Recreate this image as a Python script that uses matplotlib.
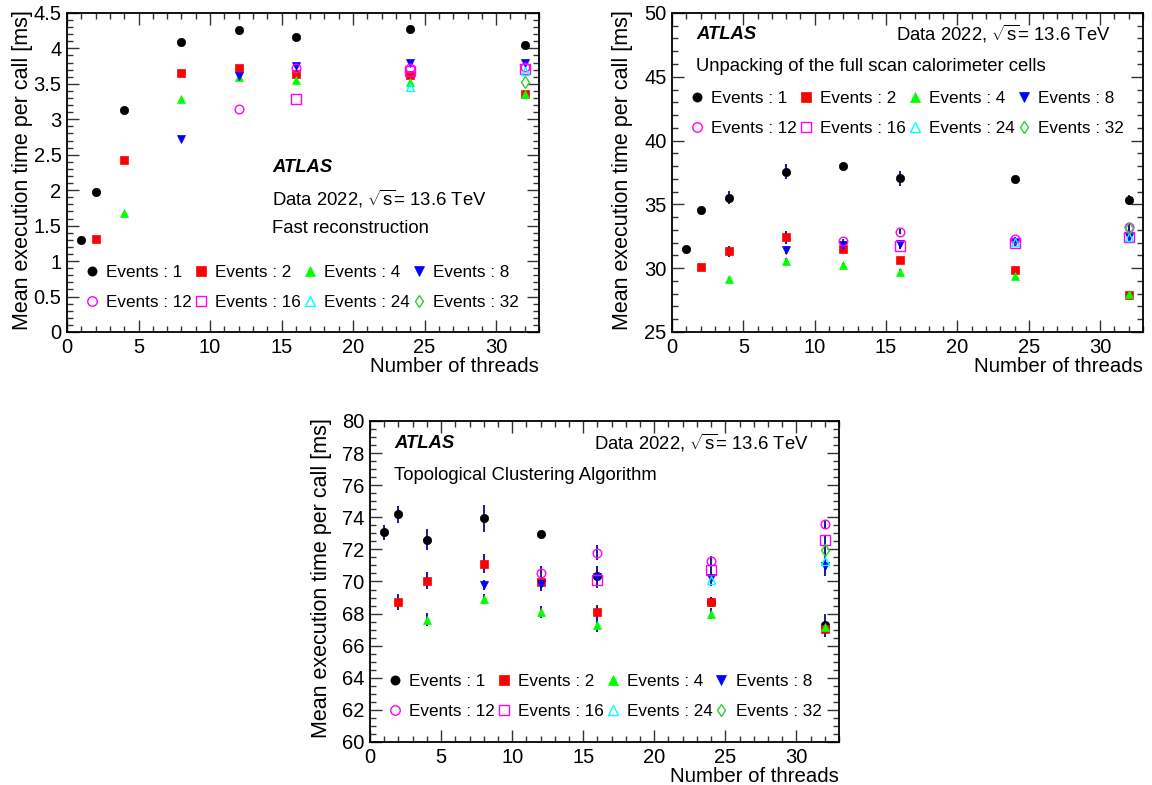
from __future__ import annotations

import matplotlib

matplotlib.use("Agg")

import matplotlib.pyplot as plt
from matplotlib.ticker import FuncFormatter, MultipleLocator

# --- data --------------------------------------------------------------
threads = [1, 2, 4, 8, 12, 16, 24, 32]
n_events = [1, 2, 4, 8, 12, 16, 24, 32]

# one list per "Events : N" series, values at threads >= N
fast_mean = [
    [1.30, 1.98, 3.13, 4.09, 4.26, 4.16, 4.28, 4.05],
    [1.31, 2.42, 3.66, 3.72, 3.64, 3.62, 3.36],
    [1.68, 3.28, 3.59, 3.55, 3.53, 3.35],
    [2.72, 3.61, 3.75, 3.80, 3.80],
    [3.14, 3.72, 3.72, 3.74],
    [3.28, 3.68, 3.71],
    [3.45, 3.68],
    [3.52],
]

unpack_mean = [
    [31.49, 34.59, 35.53, 37.57, 38.03, 37.04, 36.99, 35.35],
    [30.08, 31.31, 32.43, 31.54, 30.63, 29.82, 27.89],
    [29.14, 30.53, 30.24, 29.67, 29.41, 28.00],
    [31.44, 31.83, 31.88, 32.04, 32.48],
    [32.12, 32.87, 32.27, 33.19],
    [31.70, 32.01, 32.48],
    [32.09, 32.43],
    [33.11],
]
unpack_err = [
    [0.10, 0.20, 0.48, 0.57, 0.20, 0.60, 0.20, 0.40],
    [0.15, 0.45, 0.50, 0.30, 0.20, 0.20, 0.20],
    [0.20, 0.30, 0.20, 0.30, 0.20, 0.20],
    [0.30, 0.30, 0.30, 0.30, 0.40],
    [0.20, 0.20, 0.20, 0.30],
    [0.20, 0.20, 0.30],
    [0.20, 0.30],
    [0.30],
]

topo_mean = [
    [73.06, 74.18, 72.60, 73.93, 72.97, 70.37, 68.75, 67.32],
    [68.75, 70.06, 71.12, 69.94, 68.07, 68.75, 67.07],
    [67.63, 68.90, 68.09, 67.26, 68.00, 67.17],
    [69.77, 69.85, 70.29, 70.23, 70.96],
    [70.54, 71.79, 71.29, 73.56],
    [70.08, 70.69, 72.56],
    [70.12, 71.29],
    [71.95],
]
topo_err = [
    [0.45, 0.51, 0.65, 0.83, 0.15, 0.57, 0.30, 0.64],
    [0.50, 0.53, 0.60, 0.30, 0.45, 0.30, 0.50],
    [0.38, 0.30, 0.36, 0.40, 0.35, 0.40],
    [0.30, 0.45, 0.68, 0.50, 0.60],
    [0.40, 0.47, 0.30, 0.30],
    [0.30, 0.30, 0.30],
    [0.30, 0.50],
    [0.40],
]

# marker, colour, filled
styles = [
    ("o", "#000000", True),
    ("s", "#ff0000", True),
    ("^", "#00ff00", True),
    ("v", "#0000ff", True),
    ("o", "#ff00ff", False),
    ("s", "#ff00ff", False),
    ("^", "#00ffff", False),
    ("d", "#33cc33", False),
]
sizes = [6.0, 6.3, 6.3, 6.3, 6.2, 6.5, 6.3, 6.0]

FS = 13.3
LEG_FS = 12.3
ERR_COLOR = "#1a1a9a"

plt.rcParams["font.family"] = ["Liberation Sans", "DejaVu Sans"]
plt.rcParams["mathtext.fontset"] = "custom"
plt.rcParams["mathtext.rm"] = "Liberation Sans"
plt.rcParams["mathtext.it"] = "Liberation Sans:italic"
plt.rcParams["mathtext.bf"] = "Liberation Sans:bold"

DATA_LABEL = r"Data 2022, $\sqrt{\mathrm{s}}$= 13.6 TeV"


def _panel(ax, means, errs, *, ymin, ymax, ymajor, yminor, ylab_x):
    handles = []
    for k, (nev, vals) in enumerate(zip(n_events, means)):
        xs = threads[len(threads) - len(vals):]
        marker, color, filled = styles[k]
        if errs is not None:
            ax.errorbar(xs, vals, yerr=errs[k], fmt="none", ecolor=ERR_COLOR,
                        elinewidth=1.4, capsize=0, zorder=2)
        (h,) = ax.plot(
            xs, vals, linestyle="none", marker=marker, markersize=sizes[k],
            markerfacecolor=color if filled else "none",
            markeredgecolor=color, markeredgewidth=1.0 if not filled else 0.5,
            label=f"Events : {nev}", zorder=3,
        )
        handles.append(h)

    ax.set_xlim(0, 33)
    ax.set_ylim(ymin, ymax)
    ax.xaxis.set_major_locator(MultipleLocator(5))
    ax.xaxis.set_minor_locator(MultipleLocator(1))
    ax.yaxis.set_major_locator(MultipleLocator(ymajor))
    ax.yaxis.set_minor_locator(MultipleLocator(yminor))
    fmt = FuncFormatter(lambda v, _: f"{v:g}")
    ax.xaxis.set_major_formatter(fmt)
    ax.yaxis.set_major_formatter(fmt)
    ax.tick_params(which="both", direction="in", top=True, right=True,
                   labelsize=14.5, width=1.0, color="#333333")
    ax.tick_params(which="major", length=8.5, pad=4)
    ax.tick_params(which="minor", length=4.5)
    for s in ax.spines.values():
        s.set_linewidth(1.3)

    ax.set_xlabel("Number of threads", fontsize=14.7, loc="right", labelpad=0)
    ax.set_ylabel("Mean execution time per call [ms]", fontsize=15.5, loc="top")
    ax.yaxis.set_label_coords(ylab_x, 1.01)
    return handles


def _legend(ax, handles, y):
    order = [0, 4, 1, 5, 2, 6, 3, 7]
    ax.legend(
        [handles[i] for i in order],
        [handles[i].get_label() for i in order],
        ncol=4, loc="upper left", bbox_to_anchor=(0.034, y),
        frameon=False, fontsize=LEG_FS, handlelength=1.05, handletextpad=0.3,
        columnspacing=0.0, labelspacing=0.9, borderpad=0, borderaxespad=0,
        numpoints=1, markerscale=1.1,
    )


def main() -> None:
    fig = plt.figure(figsize=(11.52, 7.85), dpi=100)

    ax1 = fig.add_axes([0.0582, 0.5771, 0.4097, 0.4064])
    h1 = _panel(ax1, fast_mean, None, ymin=0, ymax=4.5, ymajor=0.5,
                yminor=0.1, ylab_x=-0.072)
    _legend(ax1, h1, 0.210)
    ax1.text(0.434, 0.517, "ATLAS", transform=ax1.transAxes, fontsize=FS,
             fontweight="bold", fontstyle="italic", va="center")
    ax1.text(0.434, 0.417, DATA_LABEL, transform=ax1.transAxes, fontsize=FS,
             va="center")
    ax1.text(0.434, 0.323, "Fast reconstruction", transform=ax1.transAxes,
             fontsize=FS, va="center")

    ax2 = fig.add_axes([0.5833, 0.5771, 0.4089, 0.4064])
    h2 = _panel(ax2, unpack_mean, unpack_err, ymin=25, ymax=50, ymajor=5,
                yminor=1, ylab_x=-0.083)
    _legend(ax2, h2, 0.756)
    ax2.text(0.051, 0.934, "ATLAS", transform=ax2.transAxes, fontsize=FS,
             fontweight="bold", fontstyle="italic", va="center")
    ax2.text(0.932, 0.934, DATA_LABEL, transform=ax2.transAxes, fontsize=FS,
             va="center", ha="right")
    ax2.text(0.051, 0.831, "Unpacking of the full scan calorimeter cells",
             transform=ax2.transAxes, fontsize=FS, va="center")

    ax3 = fig.add_axes([0.3212, 0.0548, 0.4071, 0.4089])
    h3 = _panel(ax3, topo_mean, topo_err, ymin=60, ymax=80, ymajor=2,
                yminor=0.5, ylab_x=-0.081)
    _legend(ax3, h3, 0.212)
    ax3.text(0.051, 0.931, "ATLAS", transform=ax3.transAxes, fontsize=FS,
             fontweight="bold", fontstyle="italic", va="center")
    ax3.text(0.936, 0.931, DATA_LABEL, transform=ax3.transAxes, fontsize=FS,
             va="center", ha="right")
    ax3.text(0.051, 0.829, "Topological Clustering Algorithm",
             transform=ax3.transAxes, fontsize=FS, va="center")

    fig.savefig("out.png", dpi=100)
    plt.close(fig)


if __name__ == "__main__":
    main()
